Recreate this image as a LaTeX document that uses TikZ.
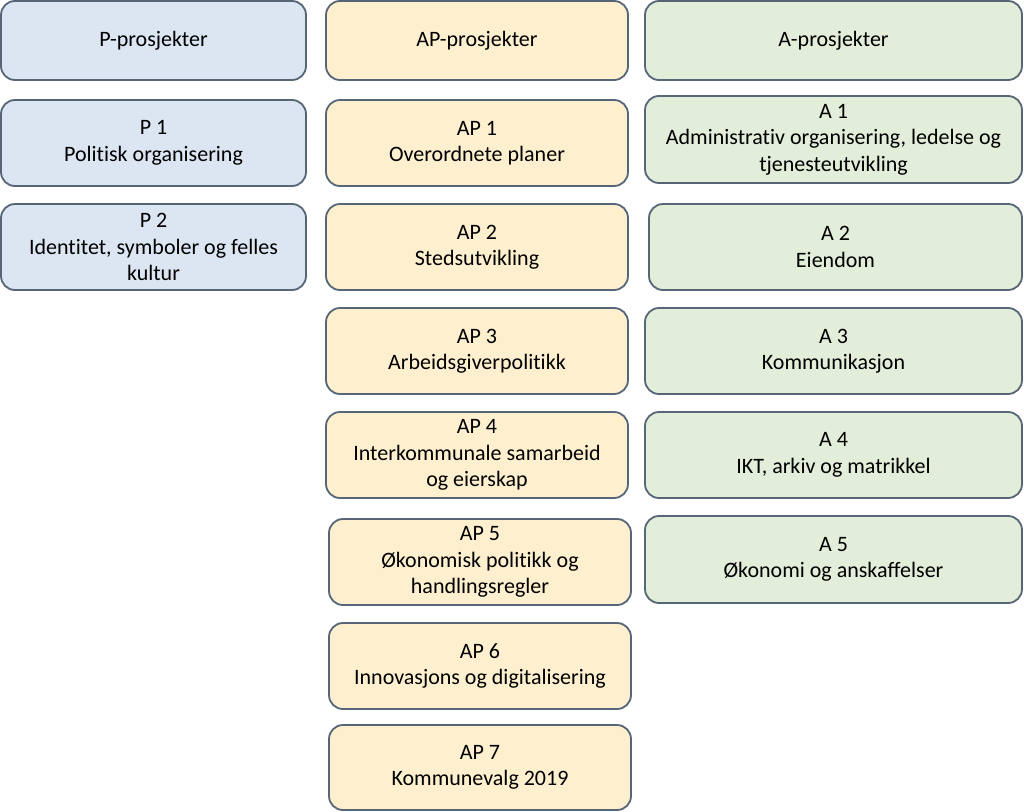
\documentclass[tikz,border=0pt]{standalone}
\usepackage{fontspec}
\setmainfont[Ligatures={NoCommon}]{Carlito}
\definecolor{pfill}{HTML}{DCE6F2}
\definecolor{apfill}{HTML}{FEF0CF}
\definecolor{afill}{HTML}{E2EDDA}
\definecolor{edge}{HTML}{566676}
\begin{document}
\begin{tikzpicture}[x=1pt,y=-1pt,
  box/.style={draw=edge, line width=1.8pt, rounded corners=14pt, align=center,
    inner sep=0pt, font=\fontsize{22}{26.5}\selectfont, text=black},
  pbox/.style={box, fill=pfill, minimum width=305pt, minimum height=86pt},
  apbox/.style={box, fill=apfill, minimum width=302pt, minimum height=86pt},
  abox/.style={box, fill=afill, minimum width=377pt, minimum height=86pt}]
\useasboundingbox (0,0) rectangle (1024,811);
% P column
\node[pbox, minimum height=79pt] (hp) at (153.5,40.5) {P-prosjekter};
\node[pbox] (p1) at (153.5,143) {P 1\\Politisk organisering};
\node[pbox] (p2) at (153.5,247) {P 2\\Identitet, symboler og felles\\kultur};
% AP column
\node[apbox, minimum height=79pt] (hap) at (477,40.5) {AP-prosjekter};
\node[apbox] (ap1) at (477,143) {AP 1\\Overordnete planer};
\node[apbox] (ap2) at (477,247) {AP 2\\Stedsutvikling};
\node[apbox] (ap3) at (477,351) {AP 3\\Arbeidsgiverpolitikk};
\node[apbox] (ap4) at (477,455) {AP 4\\Interkommunale samarbeid\\og eierskap};
\node[apbox] (ap5) at (480,562) {AP 5\\Økonomisk politikk og\\handlingsregler};
\node[apbox] (ap6) at (480,666) {AP 6\\Innovasjons og digitalisering};
\node[apbox, minimum height=85pt] (ap7) at (480,767.5) {AP 7\\Kommunevalg 2019};
% A column
\node[abox, minimum height=79pt] (ha) at (833.5,40.5) {A-prosjekter};
\node[abox, minimum height=87pt] (a1) at (833.5,139.5) {A 1\\Administrativ organisering, ledelse og\\tjenesteutvikling};
\node[abox, minimum width=373pt] (a2) at (835.5,247) {A 2\\Eiendom};
\node[abox] (a3) at (833.5,351) {A 3\\Kommunikasjon};
\node[abox] (a4) at (833.5,455) {A 4\\IKT, arkiv og matrikkel};
\node[abox, minimum height=87pt] (a5) at (833.5,559.5) {A 5\\Økonomi og anskaffelser};
\end{tikzpicture}
\end{document}
